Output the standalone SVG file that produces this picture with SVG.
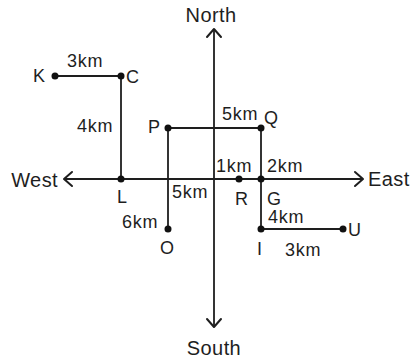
<svg xmlns="http://www.w3.org/2000/svg" width="414" height="360" viewBox="0 0 414 360">
<style>
.ln{stroke:#1e1e1e;stroke-width:1.8;fill:none}
.ah{stroke:#1e1e1e;stroke-width:2;fill:none;stroke-linecap:round;stroke-linejoin:round}
.dot{fill:#111}
text{font-family:"Liberation Sans",Arial,sans-serif;fill:#1e1e1e}
.lb{font-size:18px;letter-spacing:0.8px}
.dir{font-size:20px;letter-spacing:0.4px}
</style>
<rect width="414" height="360" fill="#fff"/>
<g id="connectors">
<line class="ln" x1="214" y1="29" x2="214" y2="327"/>
<polyline class="ah" points="207,37 214,29 221,37"/>
<polyline class="ah" points="207,319 214,327 221,319"/>
<line class="ln" x1="64" y1="179" x2="363" y2="179"/>
<polyline class="ah" points="72,172 64,179 72,186"/>
<polyline class="ah" points="355,172 363,179 355,186"/>
<line class="ln" x1="55" y1="76" x2="121" y2="76"/>
<line class="ln" x1="121" y1="76" x2="121" y2="179"/>
<line class="ln" x1="168" y1="128" x2="261" y2="128"/>
<line class="ln" x1="168" y1="128" x2="168" y2="229"/>
<line class="ln" x1="261" y1="128" x2="261" y2="229"/>
<line class="ln" x1="261" y1="229" x2="343" y2="229"/>
</g>
<g id="north"><text class="dir" x="211" y="22" text-anchor="middle">North</text></g>
<g id="south"><text class="dir" x="214" y="355" text-anchor="middle">South</text></g>
<g id="west"><text class="dir" x="58" y="187" text-anchor="end">West</text></g>
<g id="east"><text class="dir" x="368" y="186">East</text></g>
<g id="K"><circle class="dot" cx="55" cy="76" r="3.5"/><text class="lb" x="33" y="82">K</text></g>
<g id="C"><circle class="dot" cx="121" cy="76" r="3.5"/><text class="lb" x="126" y="83">C</text></g>
<g id="L"><circle class="dot" cx="121" cy="179" r="3.5"/><text class="lb" x="117" y="203">L</text></g>
<g id="P"><circle class="dot" cx="168" cy="128" r="3.5"/><text class="lb" x="148" y="133">P</text></g>
<g id="Q"><circle class="dot" cx="261" cy="128" r="3.5"/><text class="lb" x="264" y="124">Q</text></g>
<g id="O"><circle class="dot" cx="168" cy="229" r="3.5"/><text class="lb" x="160" y="254">O</text></g>
<g id="R"><circle class="dot" cx="239" cy="179" r="3.5"/><text class="lb" x="235" y="205">R</text></g>
<g id="G"><circle class="dot" cx="261" cy="179" r="3.5"/><text class="lb" x="267" y="205">G</text></g>
<g id="I"><circle class="dot" cx="261" cy="229" r="3.5"/><text class="lb" x="257" y="255">I</text></g>
<g id="U"><circle class="dot" cx="343" cy="229" r="3.5"/><text class="lb" x="348" y="236">U</text></g>
<g id="labels">
<text class="lb" x="67" y="67">3km</text>
<text class="lb" x="77" y="132">4km</text>
<text class="lb" x="222" y="120">5km</text>
<text class="lb" x="216" y="172">1km</text>
<text class="lb" x="267" y="172">2km</text>
<text class="lb" x="172" y="198">5km</text>
<text class="lb" x="122" y="228">6km</text>
<text class="lb" x="268" y="223">4km</text>
<text class="lb" x="285" y="256">3km</text>
</g>
</svg>
